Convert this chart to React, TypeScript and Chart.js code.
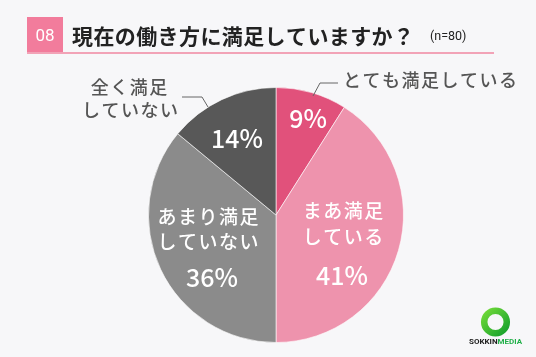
import React, { useEffect, useRef } from "react";
import { Chart, registerables } from "chart.js";
Chart.register(...registerables);

const categories = ["とても満足している", "まあ満足している", "あまり満足していない", "全く満足していない"];
const values = [9, 41, 36, 14];
const percentLabels = ["9%", "41%", "36%", "14%"];
const labelLines = [["とても満足している"], ["まあ満足", "している"], ["あまり満足", "していない"], ["全く満足", "していない"]];
const colors = ["#E1517B", "#EE93AD", "#8B8B8B", "#585858"];
const titleNo = "08";
const titleText = "現在の働き方に満足していますか？";
const nText = "(n=80)";

const JP = '"Noto Sans CJK JP", "Noto Sans", sans-serif';

// label placement relative to pie centre (px)
const layout = [
  { inside: false, pct: [32, -97], lines: [[67, -135]], align: "left", leader: [[37, -119], [44, -132], [62, -132]] },
  { inside: true, pct: [66, 60], lines: [[67, -4], [67, 22]], align: "center", leader: null },
  { inside: true, pct: [-64, 62], lines: [[-68, 2], [-68, 27]], align: "center", leader: null },
  { inside: false, pct: [-39, -77], lines: [[-147, -128], [-146, -105]], align: "center", leader: [[-94, -118], [-74, -118], [-68, -108]] },
];

const labelPlugin = {
  id: "labels",
  beforeDraw(chart: any) {
    const ctx = chart.ctx;
    ctx.save();
    ctx.fillStyle = "#F7F7F9";
    ctx.fillRect(0, 0, chart.width, chart.height);
    // title
    ctx.fillStyle = "#F27C9C";
    ctx.fillRect(27, 17, 36, 36);
    ctx.fillStyle = "#F2A3B7";
    ctx.fillRect(27, 52, 467, 2);
    ctx.fillStyle = "#ffffff";
    ctx.font = `400 17px Roboto, ${JP}`;
    ctx.textAlign = "center";
    ctx.textBaseline = "middle";
    ctx.fillText(titleNo, 45, 37);
    ctx.fillStyle = "#222222";
    ctx.font = `700 21px ${JP}`;
    ctx.textAlign = "left";
    (ctx as any).letterSpacing = "0.4px";
    ctx.fillText(titleText, 72, 36);
    (ctx as any).letterSpacing = "0px";
    ctx.font = `400 12.5px Roboto, ${JP}`;
    ctx.fillText(nText, 430, 37);
    ctx.restore();
  },
  afterDraw(chart: any) {
    const ctx = chart.ctx;
    const meta = chart.getDatasetMeta(0);
    ctx.save();
    meta.data.forEach((arc: any, i: number) => {
      const { x, y } = arc.getProps(["x", "y"], true);
      const L = layout[i];
      ctx.textBaseline = "middle";
      // percent
      ctx.fillStyle = "#ffffff";
      ctx.font = `500 25px ${JP}`;
      ctx.textAlign = "center";
      (ctx as any).letterSpacing = "0px";
      ctx.fillText(percentLabels[i], x + L.pct[0], y + L.pct[1]);
      // lines
      if (L.inside) {
        ctx.fillStyle = "#ffffff";
        ctx.font = `500 19px ${JP}`;
      } else {
        ctx.fillStyle = "#555555";
        ctx.font = `500 18px ${JP}`;
      }
      (ctx as any).letterSpacing = "1.5px";
      ctx.textAlign = L.align;
      labelLines[i].forEach((t, j) => {
        const p = L.lines[j];
        const off = L.align === "center" ? 0.75 : 0;
        ctx.fillText(t, x + p[0] + off, y + p[1]);
      });
      (ctx as any).letterSpacing = "0px";
      if (L.leader) {
        ctx.strokeStyle = "#666666";
        ctx.lineWidth = 1;
        ctx.beginPath();
        L.leader.forEach((p, k) => {
          if (k === 0) ctx.moveTo(x + p[0], y + p[1]);
          else ctx.lineTo(x + p[0], y + p[1]);
        });
        ctx.stroke();
      }
    });
    // logo
    const lx = 495.5, ly = 322;
    const g = ctx.createLinearGradient(lx - 14, ly - 14, lx + 14, ly + 14);
    g.addColorStop(0, "#7BE03A");
    g.addColorStop(1, "#0A9A2A");
    ctx.strokeStyle = g;
    ctx.lineWidth = 6.5;
    ctx.beginPath();
    ctx.arc(lx, ly, 11.3, 0, Math.PI * 2);
    ctx.stroke();
    ctx.font = `700 8px Roboto, sans-serif`;
    ctx.textAlign = "left";
    ctx.textBaseline = "middle";
    ctx.fillStyle = "#222222";
    const w1 = ctx.measureText("SOKKIN").width;
    const w2 = ctx.measureText("MEDIA").width;
    const sx = lx - (w1 + w2) / 2;
    ctx.fillText("SOKKIN", sx, 342);
    ctx.fillStyle = "#22B04A";
    ctx.fillText("MEDIA", sx + w1, 342);
    ctx.restore();
  },
};

export default function App() {
  const ref = useRef<HTMLCanvasElement>(null);
  useEffect(() => {
    const chart = new Chart(ref.current!, {
      type: "pie",
      data: {
        labels: categories,
        datasets: [
          {
            data: values,
            backgroundColor: colors,
            borderColor: "rgba(255,255,255,0.6)",
            borderWidth: 1,
          },
        ],
      },
      options: {
        responsive: false,
        animation: false,
        layout: { padding: { top: 87, bottom: 14, left: 148, right: 132 } },
        plugins: { legend: { display: false }, tooltip: { enabled: false } },
      },
      plugins: [labelPlugin],
    });
    return () => chart.destroy();
  }, []);
  return (
    <div style={{ position: "absolute", left: 0, top: 0, width: 536, height: 357 }}>
      <canvas ref={ref} width={536} height={357} style={{ display: "block" }} />
    </div>
  );
}
